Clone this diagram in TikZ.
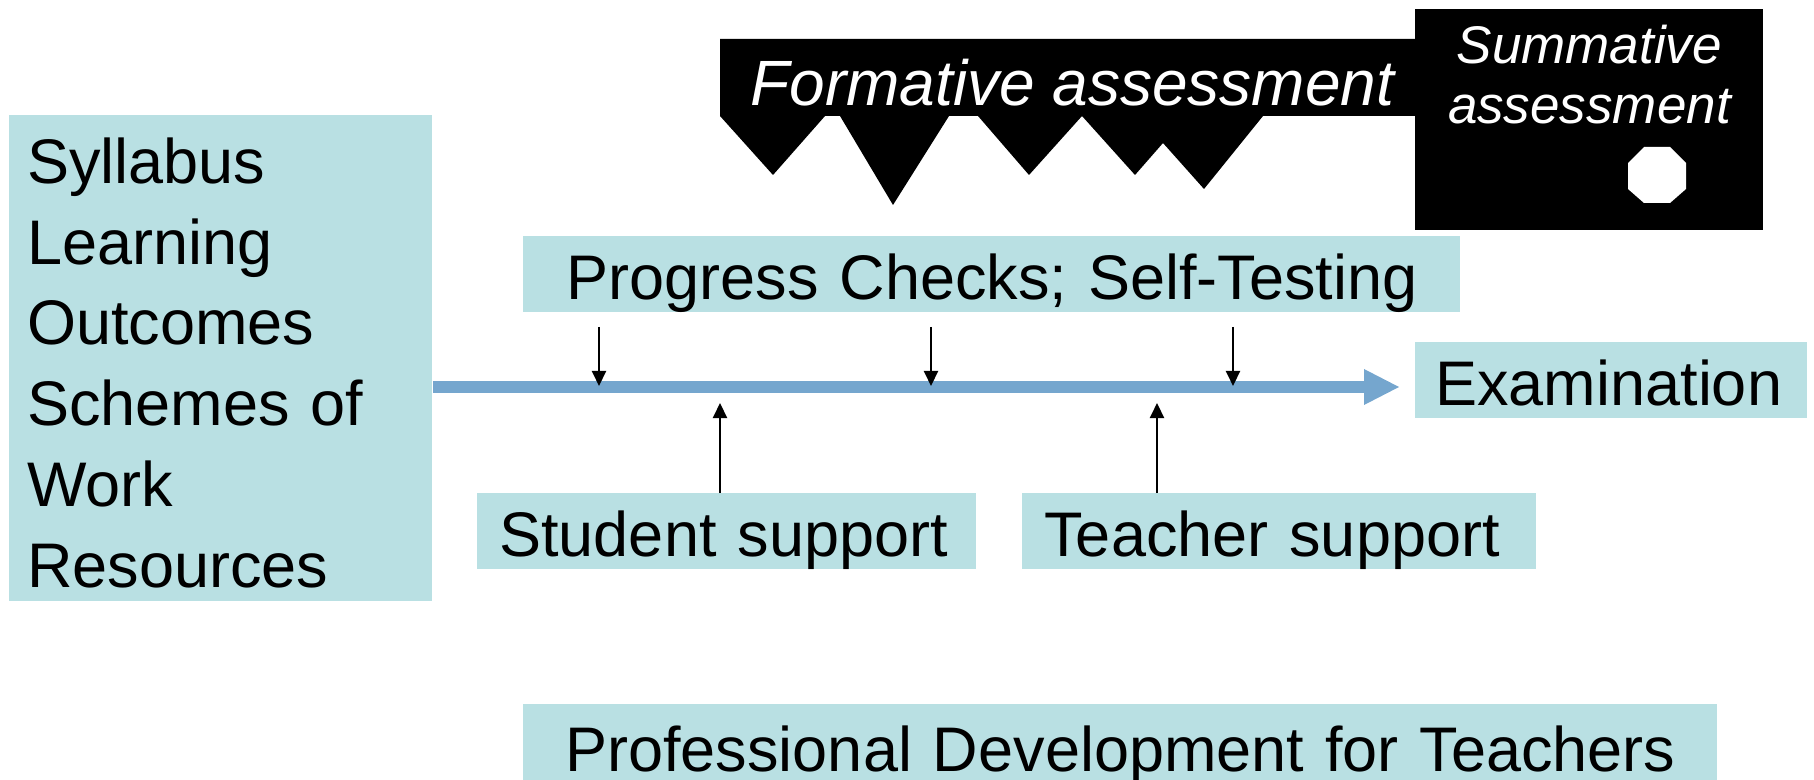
\documentclass[tikz,border=0pt]{standalone}
\usepackage{fontspec}
\setmainfont{Liberation Sans}
\usepackage{tikz}
\usetikzlibrary{arrows.meta}
\definecolor{boxTeal}{RGB}{185,224,227}
\definecolor{lineBlue}{RGB}{117,166,206}
\newcommand{\boxfont}{\fontsize{31.5}{40.4}\selectfont}
\newcommand{\headfont}{\itshape\fontsize{32}{36}\selectfont}
\newcommand{\sumfont}{\itshape\fontsize{26.5}{30}\selectfont}

\begin{document}
\begin{tikzpicture}[x=0.5pt, y=-0.5pt,
	tealbox/.style={fill=boxTeal, anchor=north west, inner ysep=0pt, font=\boxfont, text height=31.5pt, text depth=6.5pt},
	timeline/.style={lineBlue, line width=6pt, -{Triangle[length=17.5pt, width=18pt, line width=0pt]}},
	tick/.style={black, line width=1pt, -{Triangle[length=7.5pt, width=7pt]}}]
	\useasboundingbox (0,0) rectangle (1814,780);

	\node[tealbox, inner xsep=9pt, text width=193.5pt, align=left, text height=34pt, text depth=209pt] (syll) at (9,115) {Syllabus\\Learning\\Outcomes\\Schemes of\\Work\\Resources};
	\node[tealbox, inner xsep=0pt, text width=468.5pt, align=center] (prog) at (523,236) {Progress Checks; Self-Testing};
	\node[tealbox, inner xsep=10pt, text width=176pt, align=left] (exam) at (1415,342) {Examination};
	\node[tealbox, inner xsep=11pt, text width=227.5pt, align=left] (stud) at (477,493) {Student support};
	\node[tealbox, inner xsep=11pt, text width=235pt, align=left] (teach) at (1022,493) {Teacher support};
	\node[tealbox, inner xsep=0pt, text width=597pt, align=center, text height=33.5pt] (prof) at (523,704) {Professional Development for Teachers};

	% formative banner with teeth
	\fill[black] (720,39) -- (720,116) -- (773,175) -- (825,116) -- (840,116) -- (893,205) -- (949,116) -- (978,116) -- (1029,175) -- (1082,116) -- (1135,175) -- (1163,143) -- (1204,189) -- (1263,116) -- (1415,116) -- (1415,39) -- cycle;
	\node[text=white, font=\headfont, anchor=base west, inner sep=0pt] (form) at (750,106) {Formative assessment};
	\node[fill=black, text=white, anchor=north west, inner sep=0pt, text width=174pt, align=center, font=\sumfont, text height=27pt, text depth=83.5pt] (summ) at (1415,9) {Summative\\assessment};
	\fill[white] (1644,147) -- (1670,147) -- (1686,163) -- (1686,189) -- (1670,203) -- (1644,203) -- (1628,189) -- (1628,163) -- cycle;

	\coordinate (tl-end) at (1399,387);
	\draw[timeline] (syll.east |- tl-end) -- (tl-end);

	\coordinate (d1) at (599,386);
	\coordinate (d2) at (931,386);
	\coordinate (d3) at (1233,386);
	\coordinate (u1) at (720,403);
	\coordinate (u2) at (1157,403);
	\foreach \c in {d1,d2,d3}
		\draw[tick, shorten <=7pt] (prog.south -| \c) -- (\c);
	\draw[tick] (stud.north -| u1) -- (u1);
	\draw[tick] (teach.north -| u2) -- (u2);
\end{tikzpicture}
\end{document}
